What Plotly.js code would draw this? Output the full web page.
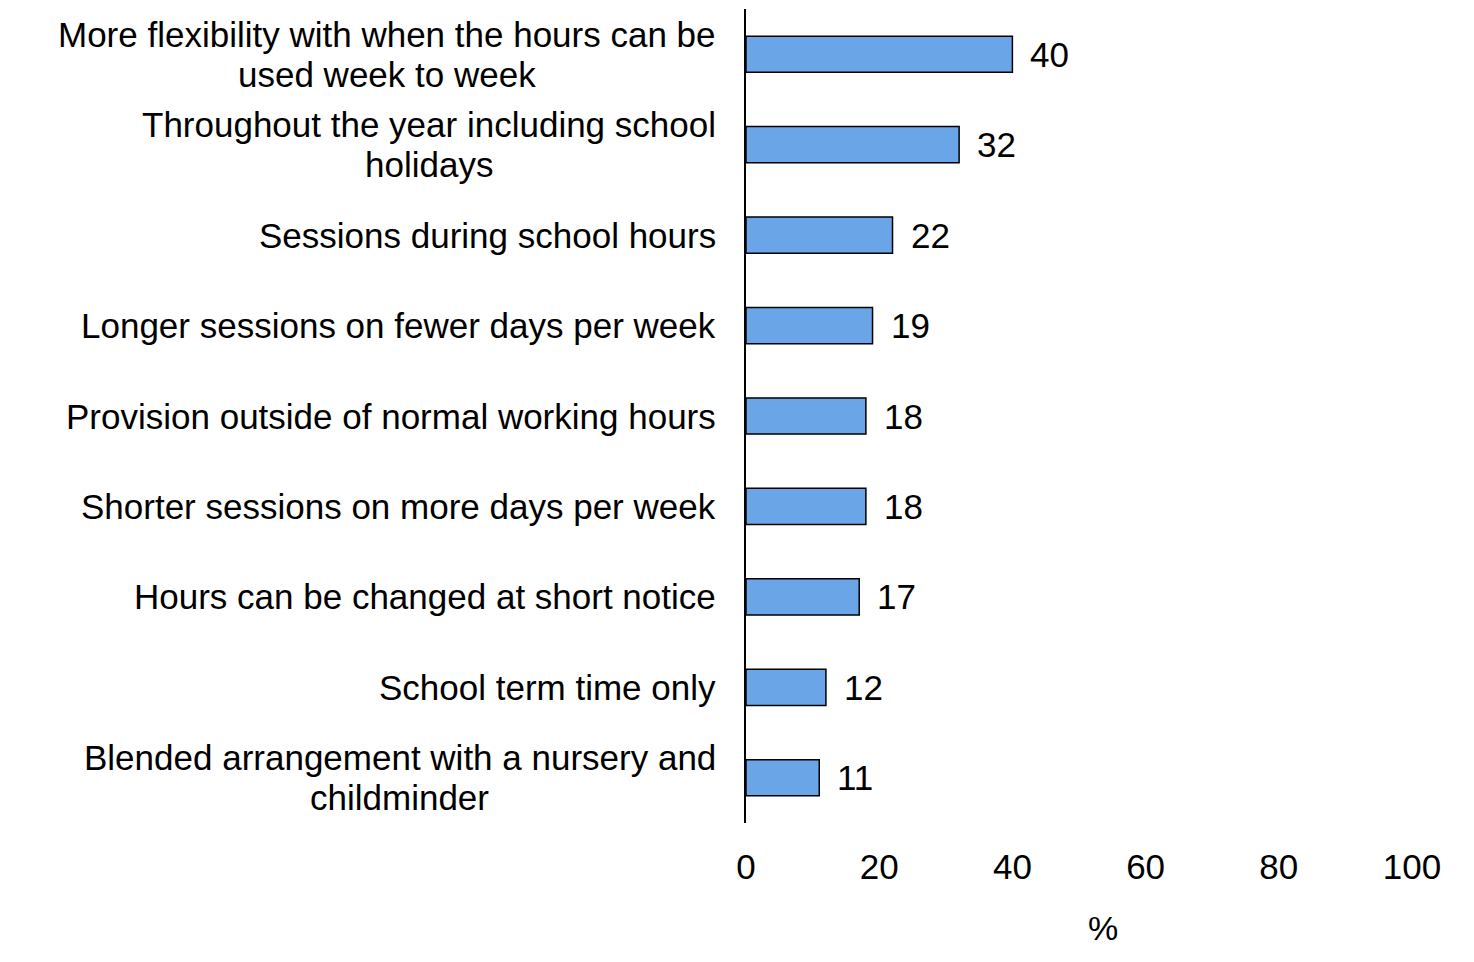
<!DOCTYPE html>
<html>
<head>
<meta charset="utf-8">
<script src="https://cdn.plot.ly/plotly-3.0.1.min.js"></script>
<style>
  html, body { margin: 0; padding: 0; background: #fff; }
  #chart { width: 1474px; height: 962px; }
</style>
</head>
<body>
<div id="chart"></div>
<script>
const categories = [
  "More flexibility with when the hours can be<br>used week to week",
  "Throughout the year including school<br>holidays",
  "Sessions during school hours",
  "Longer sessions on fewer days per week",
  "Provision outside of normal working hours",
  "Shorter sessions on more days per week",
  "Hours can be changed at short notice",
  "School term time only",
  "Blended arrangement with a nursery and<br>childminder"
];
const values = [40, 32, 22, 19, 18, 18, 17, 12, 11];
const xTicks = [0, 20, 40, 60, 80, 100];
const axisTitle = "%";

const font = "Liberation Sans, Arial, Helvetica, sans-serif";
const labelSize = 35;
const lineGap = 40; // spacing of wrapped label lines
const labelPad = 30; // gap between labels and axis line

// measure text so wrapped lines can be centred under each other
const ctx = document.createElement("canvas").getContext("2d");
ctx.font = labelSize + "px " + font;
function textWidth(s) {
  return ctx.measureText(s).width;
}

let trace = {
  type: "bar",
  orientation: "h",
  x: values,
  y: categories,
  width: 0.4,
  marker: { color: "#6aa5e8", line: { color: "#000000", width: 1.5 } },
  hoverinfo: "x+y",
};

let annotations = [];
categories.forEach((c) => {
  let lines = c.split("<br>");
  let maxW = Math.max(...lines.map(textWidth));
  lines.forEach((line, k) => {
    annotations.push({
      xref: "paper", yref: "y",
      x: 0, y: c,
      xanchor: "center", yanchor: "middle",
      xshift: -labelPad - maxW / 2,
      yshift: ((lines.length - 1) / 2 - k) * lineGap,
      text: line,
      showarrow: false,
      font: { family: font, size: labelSize, color: "#000" },
    });
  });
});

// value labels next to bar ends
values.forEach((v, i) => {
  annotations.push({
    xref: "x", yref: "y",
    x: v, y: categories[i],
    xanchor: "left", yanchor: "middle",
    xshift: 16,
    text: String(v),
    showarrow: false,
    font: { family: font, size: 35, color: "#000" },
  });
});

annotations.push({
  xref: "paper", yref: "paper",
  x: 0.536, y: 0,
  xanchor: "center", yanchor: "middle",
  yshift: -105,
  text: axisTitle,
  showarrow: false,
  font: { family: font, size: 34, color: "#000" },
});

let layout = {
  width: 1474,
  height: 962,
  margin: { l: 746, r: 62, t: 9, b: 139 },
  paper_bgcolor: "#ffffff",
  plot_bgcolor: "#ffffff",
  showlegend: false,
  font: { family: font, color: "#000" },
  xaxis: {
    range: [0, 100],
    tickvals: xTicks,
    ticktext: xTicks.map(String),
    showgrid: false,
    zeroline: false,
    showline: false,
    ticks: "",
    ticklabelstandoff: 20,
    tickfont: { family: font, size: 35, color: "#000" },
  },
  yaxis: {
    type: "category",
    categoryorder: "array",
    categoryarray: categories,
    range: [8.5, -0.5],
    showticklabels: false,
    showgrid: false,
    zeroline: false,
    showline: true,
    linecolor: "#000",
    linewidth: 2,
    ticks: "",
  },
  annotations: annotations,
};

Plotly.newPlot("chart", [trace], layout, { displayModeBar: false, staticPlot: true });
</script>
</body>
</html>
